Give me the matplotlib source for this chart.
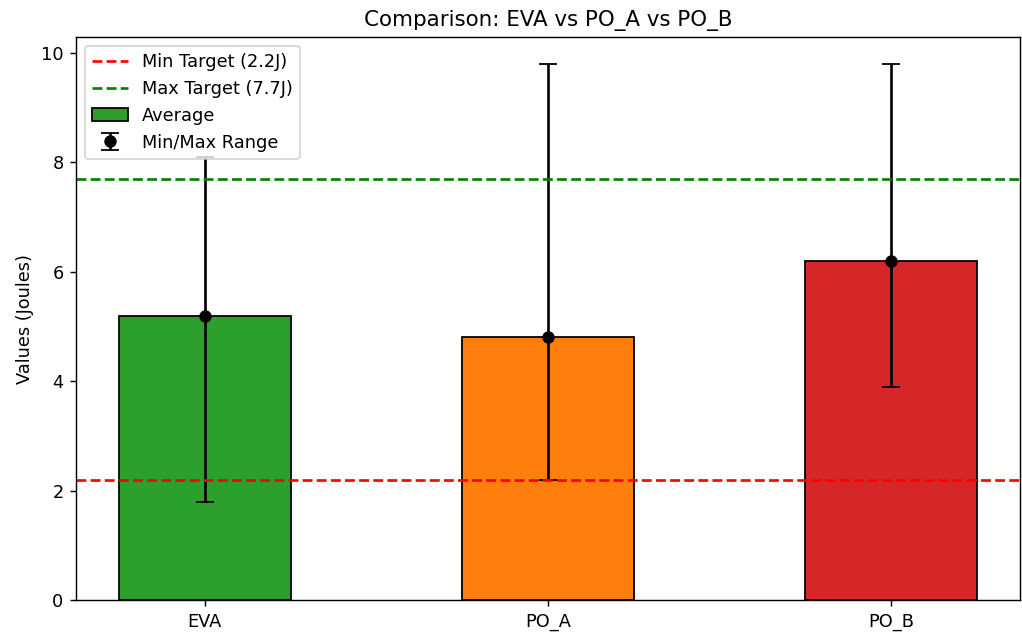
import matplotlib
matplotlib.use("Agg")
import matplotlib.pyplot as plt
import numpy as np

# data
labels = ["EVA", "PO_A", "PO_B"]
averages = [5.2, 4.8, 6.2]
minimums = [1.8, 2.2, 3.9]
maximums = [8.1, 9.8, 9.8]
bar_colors = ["tab:green", "tab:orange", "tab:red"]
min_target = 2.2
max_target = 7.7

# reference looks like an 8x5 figure rendered at ~128 dpi
fig, ax = plt.subplots(figsize=(1022 / 128, 633 / 128), dpi=128)
fig.subplots_adjust(left=0.0744, right=0.998, top=0.9415, bottom=0.052)

x = np.arange(len(labels))
avg = np.array(averages)
lower = avg - np.array(minimums)
upper = np.array(maximums) - avg

ax.bar(x, avg, width=0.5, color=bar_colors, edgecolor="black", label="Average")
ax.errorbar(x, avg, yerr=[lower, upper], fmt="o", color="black",
            ecolor="black", capsize=5, label="Min/Max Range")

ax.axhline(min_target, color="red", linestyle="--", label="Min Target (2.2J)")
ax.axhline(max_target, color="green", linestyle="--", label="Max Target (7.7J)")

ax.set_xticks(x)
ax.set_xticklabels(labels)
ax.set_ylabel("Values (Joules)")
ax.set_title("Comparison: EVA vs PO_A vs PO_B")

# legend order as in the reference
handles, names = ax.get_legend_handles_labels()
order = [names.index(n) for n in ["Min Target (2.2J)", "Max Target (7.7J)",
                                   "Average", "Min/Max Range"]]
ax.legend([handles[i] for i in order], [names[i] for i in order],
          loc="upper left")

plt.savefig("out.png")
